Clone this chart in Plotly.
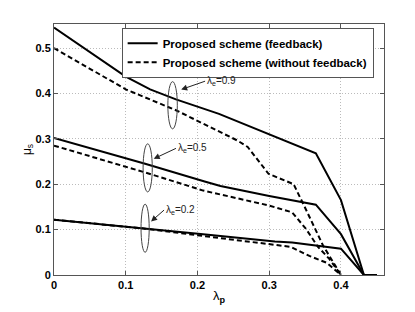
import plotly.graph_objects as go

# Data
fb09_x = [0, 0.05, 0.1, 0.134, 0.17, 0.23, 0.365, 0.4, 0.432, 0.45]
fb09_y = [0.545, 0.49, 0.437, 0.409, 0.387, 0.355, 0.268, 0.165, 0.0, 0.0]
nf09_x = [0, 0.1, 0.17, 0.208, 0.256, 0.27, 0.299, 0.322, 0.334, 0.351, 0.375, 0.4]
nf09_y = [0.5, 0.409, 0.363, 0.333, 0.296, 0.282, 0.223, 0.208, 0.2, 0.145, 0.065, 0.0]

fb05_x = [0, 0.127, 0.21, 0.232, 0.3, 0.365, 0.4, 0.432, 0.45]
fb05_y = [0.302, 0.245, 0.206, 0.196, 0.174, 0.155, 0.09, 0.0, 0.0]
nf05_x = [0, 0.127, 0.208, 0.3, 0.332, 0.351, 0.368, 0.384, 0.4]
nf05_y = [0.285, 0.226, 0.186, 0.153, 0.138, 0.102, 0.062, 0.035, 0.0]

fb02_x = [0, 0.127, 0.208, 0.308, 0.332, 0.4, 0.432, 0.45]
fb02_y = [0.122, 0.103, 0.09, 0.074, 0.0715, 0.058, 0.0, 0.0]
nf02_x = [0, 0.127, 0.208, 0.303, 0.33, 0.356, 0.38, 0.4]
nf02_y = [0.122, 0.102, 0.086, 0.068, 0.062, 0.042, 0.027, 0.0]

x_ticks = [0, 0.1, 0.2, 0.3, 0.4]
x_tick_labels = ["0", "0.1", "0.2", "0.3", "0.4"]
y_ticks = [0, 0.1, 0.2, 0.3, 0.4, 0.5]
y_tick_labels = ["0", "0.1", "0.2", "0.3", "0.4", "0.5"]

legend_names = ["Proposed scheme (feedback)", "Proposed scheme (without feedback)"]

# annotation groups: label, ellipse centre, half sizes, arrow head, arrow tail
groups = [
    ("λ<sub>e</sub>=0.9", 0.1653, 0.374, 0.0066, 0.052, 0.1773, 0.4086, 0.2106, 0.427),
    ("λ<sub>e</sub>=0.5", 0.1306, 0.236, 0.0064, 0.053, 0.139, 0.256, 0.170, 0.279),
    ("λ<sub>e</sub>=0.2", 0.127, 0.103, 0.0057, 0.053, 0.1353, 0.118, 0.1534, 0.143),
]

FONT = "Liberation Sans, Arial, Helvetica, sans-serif"
fig = go.Figure()

solid = dict(color="black", width=2)
dashed = dict(color="black", width=2, dash="5px,3px")

series = [
    (fb09_x, fb09_y, solid, 0, True),
    (nf09_x, nf09_y, dashed, 1, True),
    (fb05_x, fb05_y, solid, 0, False),
    (nf05_x, nf05_y, dashed, 1, False),
    (fb02_x, fb02_y, solid, 0, False),
    (nf02_x, nf02_y, dashed, 1, False),
]
for xs, ys, ln, k, show in series:
    fig.add_trace(go.Scatter(x=xs, y=ys, mode="lines", line=ln,
                             name=legend_names[k], legendgroup=str(k),
                             showlegend=show, cliponaxis=True))

for lab, cx, cy, hw, hh, hx, hy, tx, ty in groups:
    fig.add_shape(type="circle", xref="x", yref="y",
                  x0=cx - hw, x1=cx + hw, y0=cy - hh, y1=cy + hh,
                  line=dict(color="#444", width=1))
    fig.add_annotation(x=hx, y=hy, ax=tx, ay=ty, axref="x", ayref="y",
                       xref="x", yref="y", text=lab, showarrow=True,
                       xanchor="left", yanchor="middle",
                       arrowhead=2, arrowsize=1.2, arrowwidth=1, arrowcolor="#222",
                       standoff=0, startstandoff=0,
                       font=dict(family=FONT, size=10, color="#222"))

axis_common = dict(showline=True, linecolor="#555", linewidth=1, mirror="ticks",
                   ticks="inside", ticklen=4, tickcolor="#555",
                   showgrid=True, gridcolor="#bbb", griddash="1px,2px", gridwidth=1,
                   zeroline=False,
                   tickfont=dict(family=FONT, size=11, color="black", weight="bold"))

fig.update_xaxes(range=[0, 0.46], tickvals=x_ticks, ticktext=x_tick_labels,
                 title=dict(text="λ<sub><b>p</b></sub>", standoff=0,
                            font=dict(family=FONT, size=13, color="black")),
                 **axis_common)
fig.update_yaxes(range=[0, 0.553], tickvals=y_ticks, ticktext=y_tick_labels,
                 title=dict(text="μ<sub>s</sub>", standoff=0,
                            font=dict(family=FONT, size=12, color="black")),
                 **axis_common)

# page body has an 8px default margin; the figure is sized to fill the rest
fig.update_layout(
    width=407, height=304,
    margin=dict(l=46, r=31, t=16, b=30),
    paper_bgcolor="white", plot_bgcolor="white",
    showlegend=True,
    legend=dict(x=0.205, y=0.985, xanchor="left", yanchor="top",
                bgcolor="white", bordercolor="#555", borderwidth=1,
                font=dict(family=FONT, size=11.5, color="black", weight="bold"),
                itemwidth=30, tracegroupgap=0,
                traceorder="normal"),
)

fig.write_html("out.html")
